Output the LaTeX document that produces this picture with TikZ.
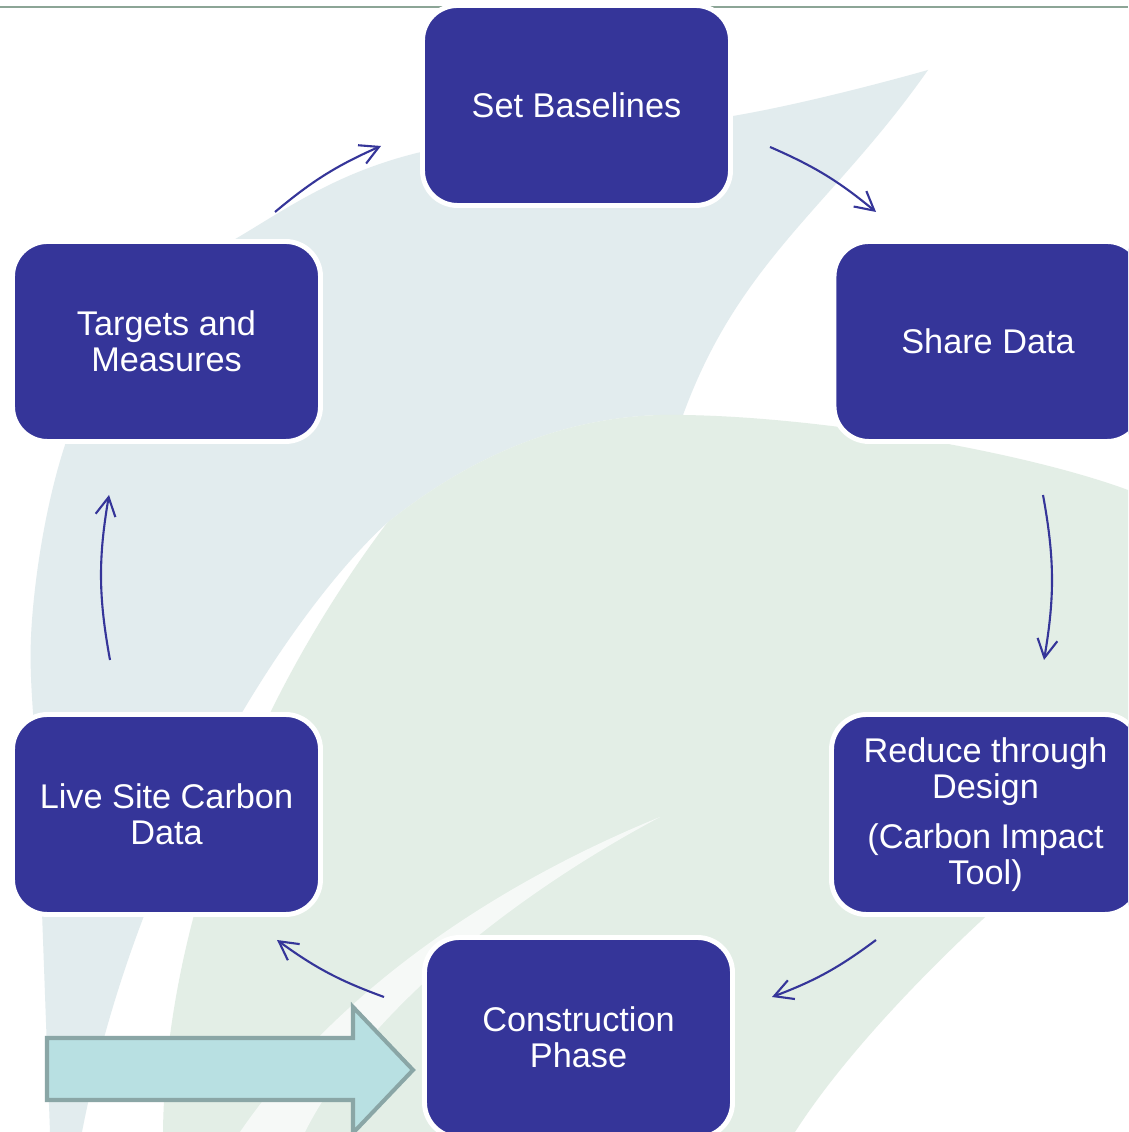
\documentclass[tikz,border=0pt]{standalone}
\usepackage{fontspec}
\setmainfont{Liberation Sans}
\usetikzlibrary{arrows.meta}

\definecolor{boxblue}{RGB}{53,53,153}
\definecolor{leafblue}{RGB}{226,236,238}
\definecolor{leafgreen}{RGB}{227,238,230}
\definecolor{arrowfill}{RGB}{184,224,226}
\definecolor{arrowedge}{RGB}{138,166,166}
\definecolor{topline}{RGB}{140,165,150}

\begin{document}
\begin{tikzpicture}
        [box/.style={rectangle, rounded corners=0.7cm, fill=boxblue, draw=white, line width=2.8pt,
            minimum width=6.16cm, minimum height=4cm, text=white, align=center,
            font=\fontsize{19.5}{20.3}\selectfont},
        cyc/.style={boxblue, line width=1.2pt, -{Straight Barb[length=3.7mm, width=4mm]}},
        inarrow/.style={fill=arrowfill, draw=arrowedge, line width=2.3pt, line join=miter}]

        \useasboundingbox (0,0) rectangle (22.56,22.64);
        \clip (0,0) rectangle (22.56,22.64);
        \fill[white] (0,0) rectangle (22.56,22.64);

        % faint leaves in the back
        \fill[leafblue] (18.56,21.24) to[out=235,in=70] (13.66,14.34)
            .. controls (11.5,14.4) and (9.5,13.6) .. (7.74,12.18)
            .. controls (6.0,10.6) and (2.8,6.0) .. (1.64,0) -- (1.0,0)
            -- plot[smooth, tension=0.6] coordinates {(1.0,0) (0.76,6.64) (0.64,10.24) (1.30,13.74)
                (2.6,16.2) (4.74,17.88) (8.34,19.58) (14.54,20.30) (18.56,21.24)} -- cycle;
        \fill[leafgreen] (7.74,12.18) .. controls (9.5,13.6) and (11.5,14.4) .. (13.66,14.34)
            .. controls (16.5,14.3) and (20.5,13.6) .. (22.56,12.84) -- (22.56,6.64)
            .. controls (21,5.6) and (17.5,2.5) .. (15.9,0) -- (3.26,0)
            .. controls (3.3,3.5) and (4.6,8.0) .. (7.74,12.18) -- cycle;
        \fill[white, opacity=0.7] (13.2,6.30) .. controls (10.5,5.2) and (7.0,3.2) .. (4.8,0)
            -- (6.1,0) .. controls (7.2,2.2) and (10,4.6) .. (13.2,6.30) -- cycle;

        % line along the top
        \draw[topline, line width=0.05cm] (0,22.50) -- (22.56,22.50);

        % the six steps
        \node[box] (base) at (11.53,20.53) {Set Baselines};
        \node[box] (share) at (19.76,15.81) {Share Data};
        \node[box] (reduce) at (19.71,6.35) {Reduce through\\Design\\[0.3cm](Carbon Impact\\Tool)};
        \node[box] (constr) at (11.57,1.89) {Construction\\Phase};
        \node[box] (live) at (3.33,6.35) {Live Site Carbon\\Data};
        \node[box] (targets) at (3.33,15.81) {Targets and\\Measures};

        % ends of the cycle arrows
        \coordinate (tb0) at (5.50,18.40);
        \coordinate (tb1) at (7.62,19.72);
        \coordinate (bs0) at (15.40,19.70);
        \coordinate (bs1) at (17.52,18.40);
        \coordinate (sr0) at (20.86,12.74);
        \coordinate (sr1) at (20.88,9.44);
        \coordinate (rc0) at (17.52,3.84);
        \coordinate (rc1) at (15.44,2.70);
        \coordinate (cl0) at (7.68,2.70);
        \coordinate (cl1) at (5.54,3.84);
        \coordinate (lt0) at (2.20,9.44);
        \coordinate (lt1) at (2.18,12.74);

        % cycle arrows
        \draw[cyc] (tb0) to[bend left=8] (tb1);
        \draw[cyc] (bs0) to[bend left=8] (bs1);
        \draw[cyc] (sr0) to[bend left=10] (sr1);
        \draw[cyc] (rc0) to[bend left=8] (rc1);
        \draw[cyc] (cl0) to[bend left=8] (cl1);
        \draw[cyc] (lt0) to[bend left=10] (lt1);

        % big arrow into the construction phase
        \draw[inarrow] (0.94,1.88) -- (7.06,1.88) -- (7.06,2.50) -- (8.26,1.24)
            -- (7.06,-0.02) -- (7.06,0.64) -- (0.94,0.64) -- cycle;

    \end{tikzpicture}
\end{document}
